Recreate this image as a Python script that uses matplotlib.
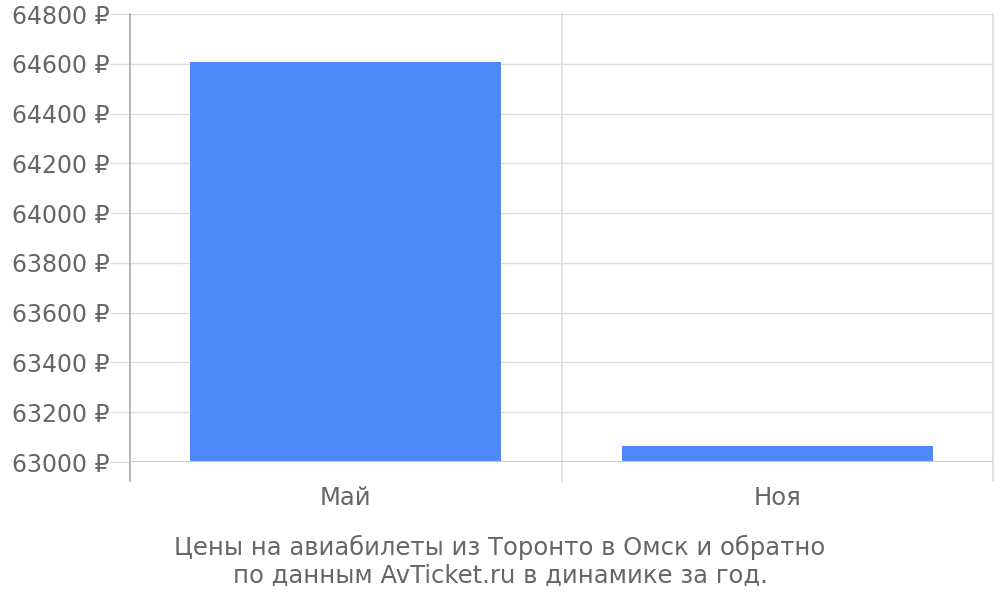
import matplotlib.pyplot as plt
import matplotlib.ticker as mticker

# данные с графика
months = ['Май', 'Ноя']
prices = [64607, 63064]
y_ticks = list(range(63000, 64801, 200))

caption = 'Цены на авиабилеты из Торонто в Омск и обратно\nпо данным AvTicket.ru в динамике за год.'

plt.rcParams['font.family'] = ['DejaVu Sans']
fig = plt.figure(figsize=(10, 6), dpi=100)
ax = fig.add_axes([0.130, 1 - 462 / 600, 0.863, 448 / 600])

x = [i + 0.5 for i in range(len(months))]
ax.bar(x, prices, width=0.72, color='#4d89f9', zorder=3)

ax.set_xlim(0, len(months))
ax.set_ylim(y_ticks[0], y_ticks[-1])
ax.set_yticks(y_ticks)
ax.yaxis.set_major_formatter(mticker.FuncFormatter(lambda v, p: '%d ₽' % v))
ax.tick_params(axis='y', length=14.4, width=1, color='#dddddd', labelsize=17,
               labelcolor='#666666', pad=0.5)
ax.set_xticks(x)
ax.set_xticklabels(months)
ax.tick_params(axis='x', length=0, labelsize=17.5, labelcolor='#666666', pad=17)
ax.yaxis.grid(True, color='#dddddd', linewidth=1, zorder=0)

for s in ['top', 'right', 'left', 'bottom']:
    ax.spines[s].set_visible(False)
ax.axhline(y_ticks[0], color='#cccccc', linewidth=1.5, zorder=4)

# вертикальные линии сетки, уходящие ниже оси
trans = ax.get_xaxis_transform()
for i in range(len(months) + 1):
    c = '#aaaaaa' if i == 0 else '#dddddd'
    ax.plot([i, i], [-0.042, 1], color=c, linewidth=1.2, transform=trans,
            clip_on=False, zorder=2)

fig.text(0.5, 1 - 561.5 / 600, caption, ha='center', va='center', fontsize=17.5,
         color='#666666', linespacing=1.2)

fig.savefig('out.png', dpi=100)
